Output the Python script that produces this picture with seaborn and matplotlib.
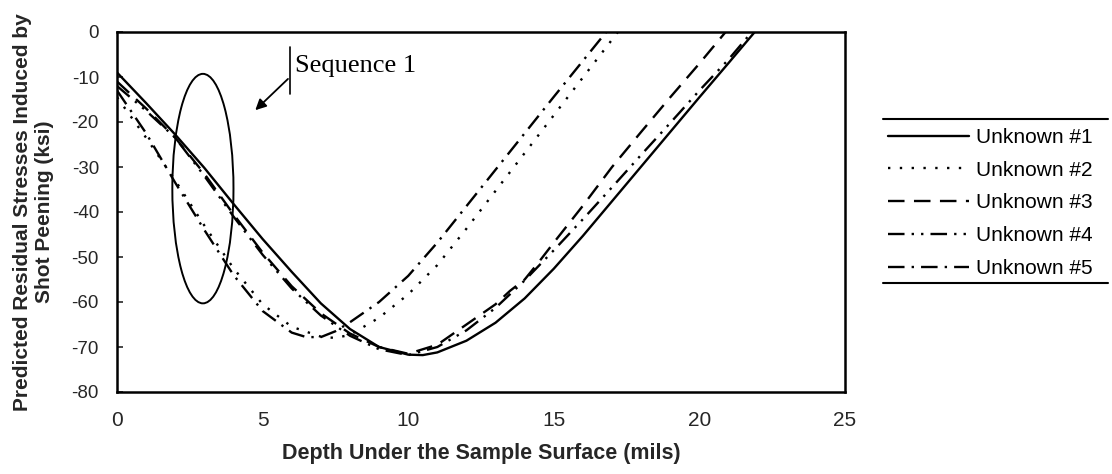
import matplotlib
matplotlib.use("Agg")
import matplotlib.pyplot as plt
import seaborn as sns
import numpy as np
import pandas as pd
from matplotlib.patches import Ellipse
from matplotlib.lines import Line2D

# ---- data ----
labels = ["Unknown #1", "Unknown #2", "Unknown #3", "Unknown #4", "Unknown #5"]

depth_1 = [0, 1, 2, 3, 4, 5, 6, 7, 8, 9, 10, 10.5, 11, 12, 13, 14, 15, 16, 17, 18, 19, 20, 21, 21.9]
stress_1 = [-9, -15.8, -22.8, -30.2, -38.2, -46, -53.3, -60.3, -66, -70, -71.7, -71.8, -71.2, -68.6,
            -64.6, -59.2, -52.6, -45.3, -37.6, -29.9, -22.2, -14.5, -6.9, 0]

depth_2 = [0, 1, 2, 3, 4, 5, 6, 7, 7.5, 8, 9, 10, 11, 12, 13, 14, 15, 16, 17, 17.2]
stress_2 = [-14.5, -23.5, -33, -43, -52.5, -60.5, -65.5, -67.7, -68, -67.3, -63.5, -58.3, -51.8,
            -43.7, -35.3, -26.9, -18.5, -10.1, -1.7, 0]

depth_3 = [0, 1, 2, 3, 4, 5, 6, 7, 8, 9, 10, 11, 12, 13, 13.5, 14, 14.5, 15, 16, 17, 18, 19, 20, 20.9]
stress_3 = [-11, -17, -23.5, -31.5, -40.5, -49, -56.5, -62.5, -67, -70, -71.5, -69.5, -65, -60.5,
            -57.5, -55, -51, -46.8, -38.6, -30, -22.2, -14.5, -7, 0]

depth_4 = [0, 1, 2, 3, 4, 5, 6, 7, 8, 9, 10, 11, 12, 13, 14, 15, 16, 17, 18, 19, 20, 21, 21.8]
stress_4 = [-12, -17.5, -23.5, -32, -41, -49.5, -57, -63, -67.5, -70.5, -71.8, -70, -66.3, -61.3,
            -55.2, -48.5, -41.6, -34.5, -27.3, -20.2, -13, -6.1, 0]

depth_5 = [0, 1, 2, 3, 4, 5, 6, 6.5, 7, 7.5, 8, 9, 10, 11, 12, 13, 14, 15, 16, 16.8]
stress_5 = [-13, -22.5, -33.5, -44, -54, -62, -66.8, -67.8, -67.8, -66.5, -64.5, -60, -54.2, -46.8,
            -38.7, -30.6, -22.5, -14.4, -6.4, 0]

x_ticks = [0, 5, 10, 15, 20, 25]
y_ticks = [-80, -70, -60, -50, -40, -30, -20, -10, 0]

# ---- styling ----
sns.set_theme(style="white")
plt.rcParams["font.family"] = ["Liberation Sans", "DejaVu Sans"]
plt.rcParams["axes.unicode_minus"] = False

W, H = 1112, 474
fig = plt.figure(figsize=(W / 100, H / 100), dpi=100)
ax = fig.add_axes([117 / W, 1 - 392 / H, (845 - 117) / W, (392 - 32) / H])

styles = ["-", (0, (1, 4)), (0, (7, 4)), (0, (7, 3, 1, 3, 1, 3)), (0, (7, 3, 1, 3))]
depths = [depth_1, depth_2, depth_3, depth_4, depth_5]
stresses = [stress_1, stress_2, stress_3, stress_4, stress_5]

for lab, d, s, ls in zip(labels, depths, stresses, styles):
    df = pd.DataFrame({"depth": d, "stress": s})
    sns.lineplot(data=df, x="depth", y="stress", ax=ax, color="black", lw=1.7,
                 linestyle=ls, label=lab, sort=False, estimator=None)

ax.set_xlim(0, 25)
ax.set_ylim(-80, 0)
ax.set_xticks(x_ticks)
ax.set_yticks(y_ticks)
ax.set_xticklabels([str(v) for v in x_ticks], fontsize=15)
ax.set_yticklabels([str(v) for v in y_ticks], fontsize=13.5)
ax.tick_params(axis="x", length=0, pad=14)
ax.tick_params(axis="y", direction="in", length=4, width=1.2, pad=13, left=True)
for sp in ax.spines.values():
    sp.set_color("black")
    sp.set_linewidth(1.8)

ax.set_xlabel("Depth Under the Sample Surface (mils)", fontsize=15.5, fontweight="bold", labelpad=9)
ax.set_ylabel("Predicted Residual Stresses Induced by\nShot Peening (ksi)", fontsize=15,
              fontweight="bold", labelpad=13)

# annotation: ellipse, arrow and text
ax.add_patch(Ellipse((2.95, -34.8), width=2.1, height=51, fill=False, lw=1.4, color="black"))
ax.plot([5.94, 5.94], [-3.4, -13.7], color="black", lw=1.2)
ax.annotate("", xy=(4.68, -17.8), xytext=(5.94, -10),
            arrowprops=dict(arrowstyle="-|>", lw=1.3, color="black", mutation_scale=16))
ax.text(6.12, -7.6, "Sequence 1", fontsize=19, family=["Liberation Serif", "DejaVu Serif"],
        va="center", ha="left", color="black")

# legend
handles, labs = ax.get_legend_handles_labels()
leg = ax.legend(handles[:5], labs[:5], loc="center left", bbox_to_anchor=(888 / W, 1 - 203 / H),
                bbox_transform=fig.transFigure, frameon=False, fontsize=15, handlelength=3.9,
                labelspacing=0.66, handletextpad=0.3, borderaxespad=0, borderpad=0)
for t in leg.get_texts():
    t.set_color("black")
fig.add_artist(Line2D([883 / W, 1108 / W], [1 - 119 / H] * 2, transform=fig.transFigure,
                      color="black", lw=1.5))
fig.add_artist(Line2D([883 / W, 1108 / W], [1 - 283 / H] * 2, transform=fig.transFigure,
                      color="black", lw=1.5))

fig.savefig("out.png", dpi=100, facecolor="white")
